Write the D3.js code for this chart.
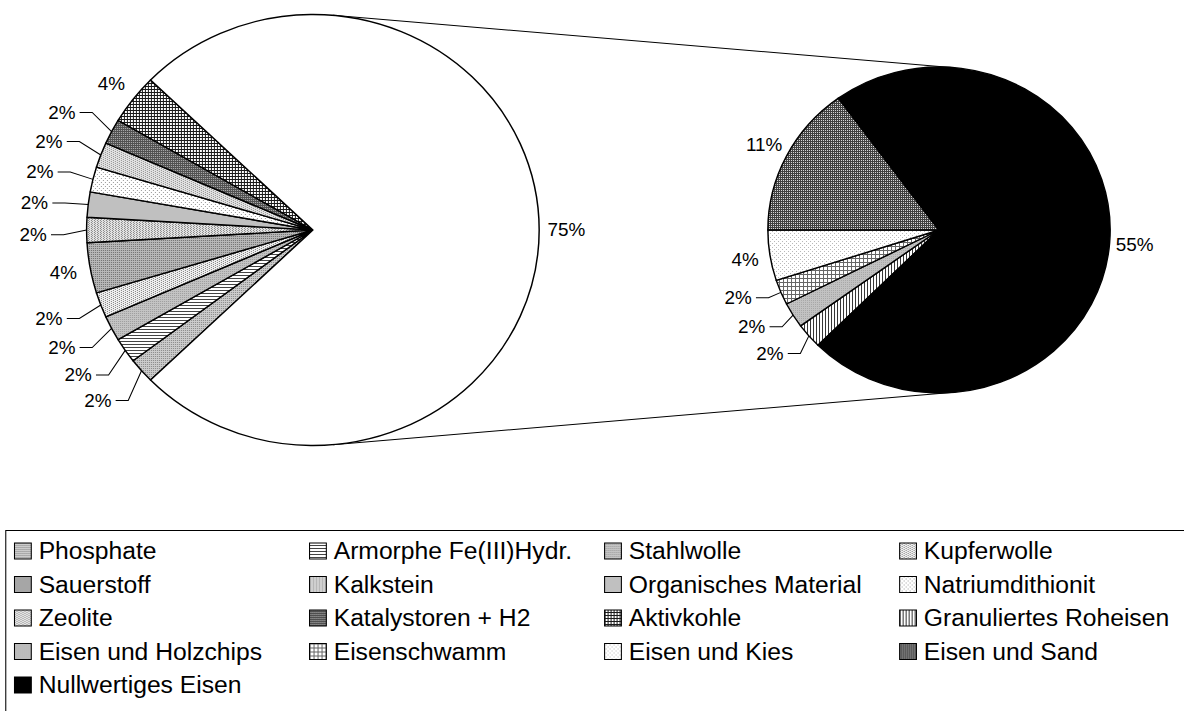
<!DOCTYPE html>
<html>
<head>
<meta charset="utf-8">
<script src="https://cdn.jsdelivr.net/npm/d3@7"></script>
<style>
  body { margin: 0; background: #fff; }
  svg { display: block; font-family: "Liberation Sans", Arial, sans-serif; }
</style>
</head>
<body>
<svg id="chart" width="1184" height="711"></svg>
<script>
// Kategorien in der Reihenfolge der Legende
const categories = ["Phosphate", "Armorphe Fe(III)Hydr.", "Stahlwolle", "Kupferwolle",
  "Sauerstoff", "Kalkstein", "Organisches Material", "Natriumdithionit",
  "Zeolite", "Katalystoren + H2", "Aktivkohle", "Granuliertes Roheisen",
  "Eisen und Holzchips", "Eisenschwamm", "Eisen und Kies", "Eisen und Sand",
  "Nullwertiges Eisen"];
// Anzahl Nennungen je Kategorie
const counts = [1, 1, 1, 1, 2, 1, 1, 1, 1, 1, 2, 1, 1, 1, 2, 6, 29];
// die letzten Werte kommen in den zweiten Kreis
const secondPlotSize = 6;

// Füllmuster (Excel-Schraffuren), gleiche Reihenfolge wie categories
const fills = [
  { w: 2, h: 2, bg: "#cccccc", cells: [[0, 0, 1, 1, "#888"]] },
  { w: 4, h: 3, bg: "#ffffff", cells: [[0, 0, 4, 1, "#444"]] },
  { w: 2, h: 2, bg: "#c4c4c4", cells: [[1, 1, 1, 1, "#9c9c9c"]] },
  { w: 4, h: 2, bg: "#f0f0f0", cells: [[0, 0, 1, 1, "#808080"], [2, 1, 1, 1, "#808080"]] },
  { w: 2, h: 2, bg: "#b8b8b8", cells: [[0, 0, 1, 1, "#707070"]] },
  { w: 3, h: 2, bg: "#e6e6e6", cells: [[0, 0, 1, 1, "#808080"], [1, 1, 1, 1, "#909090"]] },
  { w: 2, h: 2, bg: "#c0c0c0", cells: [] },
  { w: 4, h: 4, bg: "#ffffff", cells: [[0, 0, 1, 1, "#999"], [2, 2, 1, 1, "#999"]] },
  { w: 4, h: 2, bg: "#e2e2e2", cells: [[0, 0, 1, 1, "#939393"], [2, 1, 1, 1, "#939393"]] },
  { w: 2, h: 2, bg: "#505050", cells: [[0, 0, 1, 1, "#b0b0b0"]] },
  { w: 3, h: 3, bg: "#ffffff", cells: [[0, 0, 3, 1, "#1a1a1a"], [0, 0, 1, 3, "#1a1a1a"]] },
  { w: 3, h: 3, bg: "#ffffff", cells: [[0, 0, 1, 3, "#333"]] },
  { w: 2, h: 2, bg: "#c2c2c2", cells: [[0, 0, 1, 1, "#a8a8a8"]] },
  { w: 4, h: 4, bg: "#ffffff", cells: [[0, 0, 4, 1, "#666"], [0, 0, 1, 4, "#666"]] },
  { w: 4, h: 4, bg: "#ffffff", cells: [[1, 1, 1, 1, "#b8b8b8"], [3, 3, 1, 1, "#b8b8b8"]] },
  { w: 2, h: 2, bg: "#404040", cells: [[0, 0, 1, 1, "#d8d8d8"]] },
  { w: 2, h: 2, bg: "#000", cells: [] }
];

const stretch = 1.05;           // Bild ist leicht in die Breite gezogen
const svg = d3.select("#chart");
svg.append("rect").attr("width", 1184).attr("height", 711).attr("fill", "#fff");
const defs = svg.append("defs");

fills.forEach((f, i) => {
  const p = defs.append("pattern")
    .attr("id", "pat" + i)
    .attr("patternUnits", "userSpaceOnUse")
    .attr("width", f.w).attr("height", f.h)
    .attr("patternTransform", `scale(${1 / stretch},1)`);
  p.append("rect").attr("width", f.w).attr("height", f.h).attr("fill", f.bg);
  f.cells.forEach(c => p.append("rect")
    .attr("x", c[0]).attr("y", c[1]).attr("width", c[2]).attr("height", c[3]).attr("fill", c[4]));
});

const g = svg.append("g").attr("transform", `scale(${stretch},1)`);

const total = d3.sum(counts);
const pct = d3.format(".0%");
const nFirst = counts.length - secondPlotSize;
const otherValue = d3.sum(counts.slice(nFirst));

const firstData = counts.slice(0, nFirst).map((v, i) => ({ idx: i, value: v }))
  .concat([{ idx: -1, value: otherValue }]);
const secondData = counts.slice(nFirst).map((v, i) => ({ idx: nFirst + i, value: v }));

const pie1 = { cx: 298, cy: 230, r: 215.5, big: 26, lead: 51, shift: 1 };
const pie2 = { cx: 894.3, cy: 230, r: 163, big: 24, lead: 40, shift: 3 };

// "Sonstige" zeigt nach rechts zum zweiten Kreis
const start1 = Math.PI / 2 + Math.PI * otherValue / total;
const start2 = Math.PI * 5 / 4;

const arcs1 = d3.pie().sort(null).value(d => d.value)
  .startAngle(start1).endAngle(start1 + 2 * Math.PI)(firstData);
const arcs2 = d3.pie().sort(null).value(d => d.value)
  .startAngle(start2).endAngle(start2 + 2 * Math.PI)(secondData);

// Verbindungslinien (äußere Tangenten beider Kreise)
const dist = pie2.cx - pie1.cx;
const alpha = Math.asin((pie1.r - pie2.r) / dist);
[-1, 1].forEach(s => {
  const nx = Math.sin(alpha), ny = s * Math.cos(alpha);
  g.append("line")
    .attr("x1", pie1.cx + pie1.r * nx).attr("y1", pie1.cy + pie1.r * ny)
    .attr("x2", pie2.cx + pie2.r * nx).attr("y2", pie2.cy + pie2.r * ny)
    .attr("stroke", "#000").attr("stroke-width", 1);
});

function drawPie(p, arcs) {
  const arc = d3.arc().innerRadius(0).outerRadius(p.r);
  const grp = g.append("g").attr("transform", `translate(${p.cx},${p.cy})`);
  grp.selectAll("path")
    .data(arcs)
    .join("path")
    .attr("d", arc)
    .attr("fill", d => d.data.idx < 0 ? "#fff" : `url(#pat${d.data.idx})`)
    .attr("stroke", "#000")
    .attr("stroke-width", 1.4)
    .attr("stroke-linejoin", "round");

  const pt = (a, r) => [Math.sin(a) * r, -Math.cos(a) * r];

  arcs.forEach(d => {
    const mid = (d.startAngle + d.endAngle) / 2;
    const label = pct(d.data.value / total);
    const leader = d.data.value / total < 0.03;
    if (!leader) {
      const [x, y] = pt(mid, p.r + p.big);
      grp.append("text").attr("x", x).attr("y", y).attr("dy", "0.35em")
        .attr("text-anchor", "middle").attr("font-size", 18).text(label);
      return;
    }
    // Winkel etwas zur Horizontalen hin verschoben
    const rel = ((mid * 180 / Math.PI) % 360) - 270;
    const a2 = (270 + rel - Math.sign(rel) * p.shift) * Math.PI / 180;
    const [lx, ly] = pt(a2, p.r + p.lead);
    const t = grp.append("text").attr("x", lx).attr("y", ly).attr("dy", "0.35em")
      .attr("text-anchor", "middle").attr("font-size", 18).text(label);
    const w = t.node().getComputedTextLength();
    const [ex, ey] = pt(mid, p.r);
    const x0 = lx + w / 2 + 4;
    grp.append("path")
      .attr("d", `M${x0},${ly}H${x0 + 12}L${ex},${ey}`)
      .attr("fill", "none").attr("stroke", "#000").attr("stroke-width", 1);
  });
}

drawPie(pie1, arcs1);
drawPie(pie2, arcs2);

// Legende
const legend = g.append("g");
legend.append("rect")
  .attr("x", 5.5).attr("y", 530.5).attr("width", 1200).attr("height", 300)
  .attr("fill", "none").attr("stroke", "#000").attr("stroke-width", 1);

const colX = d3.range(4).map(i => 13.8 + i * 281);
const rowY = d3.range(5).map(i => 551 + i * 33.5);

const items = legend.selectAll("g.item")
  .data(categories)
  .join("g")
  .attr("class", "item")
  .attr("transform", (d, i) => `translate(${colX[i % 4]},${rowY[Math.floor(i / 4)]})`);

items.append("rect")
  .attr("x", 0).attr("y", -8).attr("width", 16).attr("height", 16)
  .attr("fill", (d, i) => `url(#pat${i})`)
  .attr("stroke", "#000").attr("stroke-width", 1);

items.append("text")
  .attr("x", 23).attr("dy", "0.35em")
  .attr("font-size", 23.5)
  .text(d => d);
</script>
</body>
</html>
